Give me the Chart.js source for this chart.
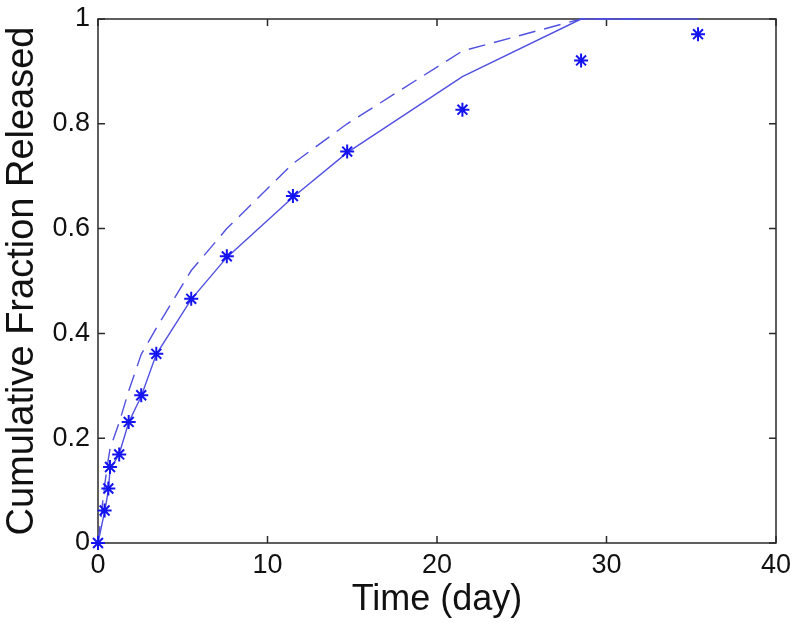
<!DOCTYPE html>
<html>
<head>
<meta charset="utf-8">
<script src="https://cdn.jsdelivr.net/npm/chart.js@4"></script>
<style>
  html, body { margin: 0; padding: 0; background: #fff; }
  #wrap { width: 800px; height: 626px; }
</style>
</head>
<body>
<div id="wrap"><canvas id="myChart"></canvas></div>
<script>
// measured release data (stars)
const days = [0, 0.39, 0.61, 0.71, 1.25, 1.81, 2.55, 3.44, 5.5, 7.6, 11.5, 14.7, 21.5, 28.5, 35.4];
const released = [0, 0.062, 0.104, 0.145, 0.169, 0.231, 0.282, 0.361, 0.466, 0.547, 0.662, 0.747, 0.827, 0.921, 0.971];

// model fit (solid line)
const fitDays = [0, 0.39, 0.61, 0.71, 1.25, 1.81, 2.55, 3.44, 5.5, 7.6, 11.5, 14.7, 21.5, 28.5, 35.4];
const fitValues = [0, 0.06, 0.10, 0.14, 0.17, 0.23, 0.28, 0.36, 0.465, 0.545, 0.66, 0.745, 0.89, 1.0, 1.0];

// second model (dashed line)
const dashDays = [0, 0.39, 0.61, 0.71, 1.25, 1.81, 2.55, 3.44, 5.5, 7.6, 11.5, 14.7, 21.5, 28.5, 32];
const dashValues = [0, 0.11, 0.16, 0.18, 0.23, 0.29, 0.36, 0.41, 0.52, 0.60, 0.724, 0.80, 0.939, 1.0, 1.0];

const xTicks = [0, 10, 20, 30, 40];
const yTicks = [0, 0.2, 0.4, 0.6, 0.8, 1];

const toPoints = (xs, ys) => xs.map((x, i) => ({ x: x, y: ys[i] }));

const fontFamily = '"Liberation Sans", Arial, sans-serif';
const lineBlue = 'rgb(80,80,225)';
const markBlue = 'rgb(20,20,240)';

// MATLAB style box with inward ticks, drawn under the data
const boxTicks = {
  id: 'boxTicks',
  beforeDatasetsDraw(chart) {
    const ctx = chart.ctx;
    const a = chart.chartArea;
    const xs = chart.scales.x;
    const ys = chart.scales.y;
    const len = 7;
    ctx.save();
    ctx.strokeStyle = '#2a2a2a';
    ctx.lineWidth = 1.5;
    ctx.strokeRect(a.left, a.top, a.right - a.left, a.bottom - a.top);
    ctx.beginPath();
    xTicks.forEach(v => {
      const px = xs.getPixelForValue(v);
      ctx.moveTo(px, a.bottom); ctx.lineTo(px, a.bottom - len);
      ctx.moveTo(px, a.top); ctx.lineTo(px, a.top + len);
    });
    yTicks.forEach(v => {
      const py = ys.getPixelForValue(v);
      ctx.moveTo(a.left, py); ctx.lineTo(a.left + len, py);
      ctx.moveTo(a.right, py); ctx.lineTo(a.right - len, py);
    });
    ctx.stroke();
    ctx.restore();
  }
};

window.onload = function() {
  const ctx = document.getElementById('myChart').getContext('2d');
  new Chart(ctx, {
    type: 'scatter',
    data: {
      datasets: [{
        label: 'Data',
        data: toPoints(days, released),
        showLine: false,
        pointStyle: 'star',
        pointRadius: 7,
        borderColor: markBlue,
        borderWidth: 2,
        clip: false
      }, {
        label: 'Model',
        data: toPoints(fitDays, fitValues),
        showLine: true,
        borderColor: lineBlue,
        borderWidth: 1.4,
        pointRadius: 0,
        tension: 0,
        clip: false
      }, {
        label: 'Model 2',
        data: toPoints(dashDays, dashValues),
        showLine: true,
        borderColor: lineBlue,
        borderWidth: 1.4,
        borderDash: [17, 9],
        pointRadius: 0,
        tension: 0,
        clip: false
      }]
    },
    options: {
      responsive: true,
      maintainAspectRatio: false,
      animation: false,
      layout: { padding: { top: 19, right: 24, left: 0, bottom: 0 } },
      plugins: {
        legend: { display: false },
        tooltip: { enabled: false }
      },
      scales: {
        x: {
          type: 'linear',
          min: 0,
          max: 40,
          afterBuildTicks: s => { s.ticks = xTicks.map(v => ({ value: v })); },
          afterFit: s => { s.height = 83; s.paddingLeft = 0; s.paddingRight = 0; },
          grid: { display: false, drawTicks: false },
          border: { display: false },
          ticks: { color: '#111', padding: 6, font: { family: fontFamily, size: 27 }, maxRotation: 0, callback: v => String(v) },
          title: { display: true, text: 'Time (day)', color: '#111', padding: { top: 0 }, font: { family: fontFamily, size: 36 } }
        },
        y: {
          min: 0,
          max: 1,
          afterBuildTicks: s => { s.ticks = yTicks.map(v => ({ value: v })); },
          afterFit: s => { s.width = 98; s.paddingTop = 0; s.paddingBottom = 0; },
          grid: { display: false, drawTicks: false },
          border: { display: false },
          ticks: { color: '#111', padding: 8, font: { family: fontFamily, size: 27 }, callback: v => String(v) },
          title: { display: true, text: 'Cumulative Fraction Released', color: '#111', padding: 0, font: { family: fontFamily, size: 38 } }
        }
      }
    },
    plugins: [boxTicks]
  });
};
</script>
</body>
</html>
